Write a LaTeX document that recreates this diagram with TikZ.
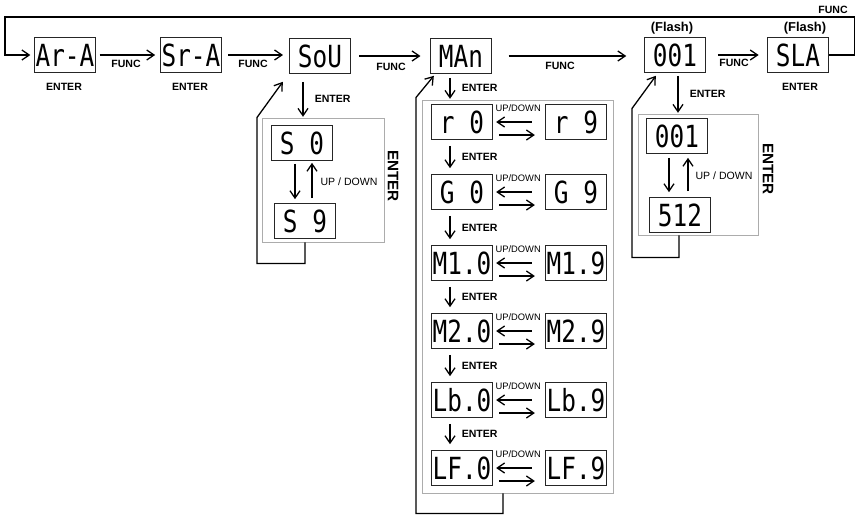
\documentclass[tikz,border=0pt]{standalone}
\usepackage{fontspec}
\setmainfont{Liberation Sans}
\newfontfamily\segfont[FakeStretch=0.8]{DejaVu Sans Mono}
\usetikzlibrary{arrows.meta,calc}

\begin{document}
\begin{tikzpicture}[x=0.03cm, y=-0.03cm, >={Straight Barb[length=2.2mm,width=3mm]},
    disp/.style={draw=black!85, line width=1.1pt, minimum width=1.83cm, minimum height=1.03cm,
        inner sep=0pt, font=\segfont\fontsize{26}{26}\selectfont},
    grp/.style={draw=gray!65, line width=0.8pt, inner sep=0pt},
    lbl/.style={font=\bfseries\fontsize{9}{10}\selectfont, inner sep=1pt},
    ud/.style={font=\fontsize{9}{10}\selectfont, inner sep=1pt},
    side/.style={font=\bfseries\fontsize{13}{14}\selectfont, rotate=-90, inner sep=1pt},
    link/.style={line width=1.1pt}]
    \useasboundingbox (0,0) rectangle (856,518);

    % ---------- main row ----------
    \node[disp] (ara) at (65,55) {Ar-A};
    \node[disp] (sra) at (191,55) {Sr-A};
    \node[disp] (sou) at (320,56) {SoU};
    \node[disp] (man) at (461,56) {MAn};
    \node[disp] (addr) at (675,55) {001};
    \node[disp] (sla) at (798,55) {SLA};
    \node[lbl, font=\bfseries\fontsize{11}{12}\selectfont] (flash1) at (672,28) {(Flash)};
    \node[lbl, font=\bfseries\fontsize{11}{12}\selectfont] (flash2) at (805,28) {(Flash)};
    \foreach \n/\x/\y in {ara/64/87, sra/190/87, sla/800/87}
        \node[lbl] (en\n) at (\x,\y) {ENTER};
    \foreach \n/\x/\y in {a/126/64, b/253/64, c/391/67, d/560/66, e/734/63, top/833/10}
        \node[lbl] (func\n) at (\x,\y) {FUNC};
    \draw[link,->,shorten <=3pt,shorten >=4pt] (ara) -- (sra);
    \draw[link,->,shorten <=5pt,shorten >=5pt] (sra.east) -- (sra.east -| sou.west);
    \draw[link,->,shorten <=7pt,shorten >=8pt] (sou.east) -- (sou.east -| man.west);
    \draw[link,->,shorten <=14pt,shorten >=15pt] (man.east) -- (man.east -| addr.west);
    \draw[link,->,shorten <=10pt,shorten >=7pt] (addr) -- (sla);
    \draw[link,->,shorten >=3pt] (sla.east) -- ++(25,0) |- (5,17) |- (ara.west);

    % ---------- SoU ----------
    \node[grp, minimum width=3.66cm, minimum height=3.72cm] (sougrp) at (323,180) {};
    \node[disp] (s0) at (302,143) {S 0};
    \node[disp] (s9) at (305,221) {S 9};
    \draw[link,->] ($(sou.south)+(-17,8)$) -- ($(sou.south)+(-17,43)$)
        node[lbl, midway, right, xshift=0.3cm] (ensou) {ENTER};
    \draw[link,->] ($(s0.south)+(-7,3)$) -- ($(s9.north)+(-10,-4)$);
    \draw[link,->] ($(s9.north)+(7,-5)$) -- ($(s0.south)+(10,2)$);
    \node[ud] (udsou) at (349,182) {UP / DOWN};
    \node[side] (sidesou) at (393,176) {ENTER};
    \draw[link,->] ($(sougrp.south)+(-18,0)$) -- ++(0,21) -- ++(-48,0) -- ++(0,-146)
        -- ($(sou.south west)+(-6,8)$);

    % ---------- MAn ----------
    \node[grp, minimum width=5.73cm, minimum height=11.79cm] (mangrp) at (517.5,296.5) {};
    \draw[link,->] ($(man.south)+(-11,4)$) -- ($(man.south)+(-11,25)$)
        node[lbl, midway, right, xshift=0.3cm] (enman) {ENTER};
    \foreach \y/\a/\b [count=\i] in {122/r 0/r 9, 192/G 0/G 9, 263/M1.0/M1.9,
            331/M2.0/M2.9, 400/Lb.0/Lb.9, 468/LF.0/LF.9} {
        \node[disp] (lo\i) at (462,\y) {\a};
        \node[disp] (hi\i) at (576,\y) {\b};
        \node[ud, font=\fontsize{8}{9}\selectfont] (ud\i) at ($(lo\i.north east)+(25,4)$) {UP/DOWN};
        \draw[link,->] ($(hi\i.west)+(-13,0)$) -- ($(lo\i.east)+(3,0)$);
        \draw[link,->] ($(lo\i.east)+(6,13)$) -- ($(hi\i.west)+(-10,13)$);
    }
    \foreach \i/\j in {1/2, 2/3, 3/4, 4/5, 5/6}
        \draw[link,->] ($(lo\i.south)+(-12,6)$) -- ($(lo\j.north)+(-12,-6)$)
            node[lbl, midway, right, xshift=0.3cm] (enrow\i) {ENTER};
    \draw[link,->] ($(mangrp.south)+(-14.5,0)$) -- ++(0,20) -- ++(-87,0) -- ++(0,-416)
        -- ($(man.south west)+(4,2)$);

    % ---------- 001 ----------
    \node[grp, minimum width=3.6cm, minimum height=3.63cm] (addrgrp) at (698,174.5) {};
    \node[disp] (a1) at (677,136) {001};
    \node[disp] (a512) at (680,215) {512};
    \draw[link,->] ($(addr.south)+(3,3)$) -- ($(addr.south)+(3,40)$)
        node[lbl, midway, right, xshift=0.3cm] (enaddr) {ENTER};
    \draw[link,->] ($(a1.south)+(-8,4)$) -- ($(a512.north)+(-11,-5)$);
    \draw[link,->] ($(a512.north)+(8,-6)$) -- ($(a1.south)+(11,4)$);
    \node[ud] (udaddr) at (724,176) {UP / DOWN};
    \node[side] (sideaddr) at (768,169) {ENTER};
    \draw[link,->] ($(addrgrp.south)+(-19,0)$) -- ++(0,22) -- ++(-47,0) -- ++(0,-149)
        -- ($(addr.south west)+(12,3)$);
\end{tikzpicture}
\end{document}
